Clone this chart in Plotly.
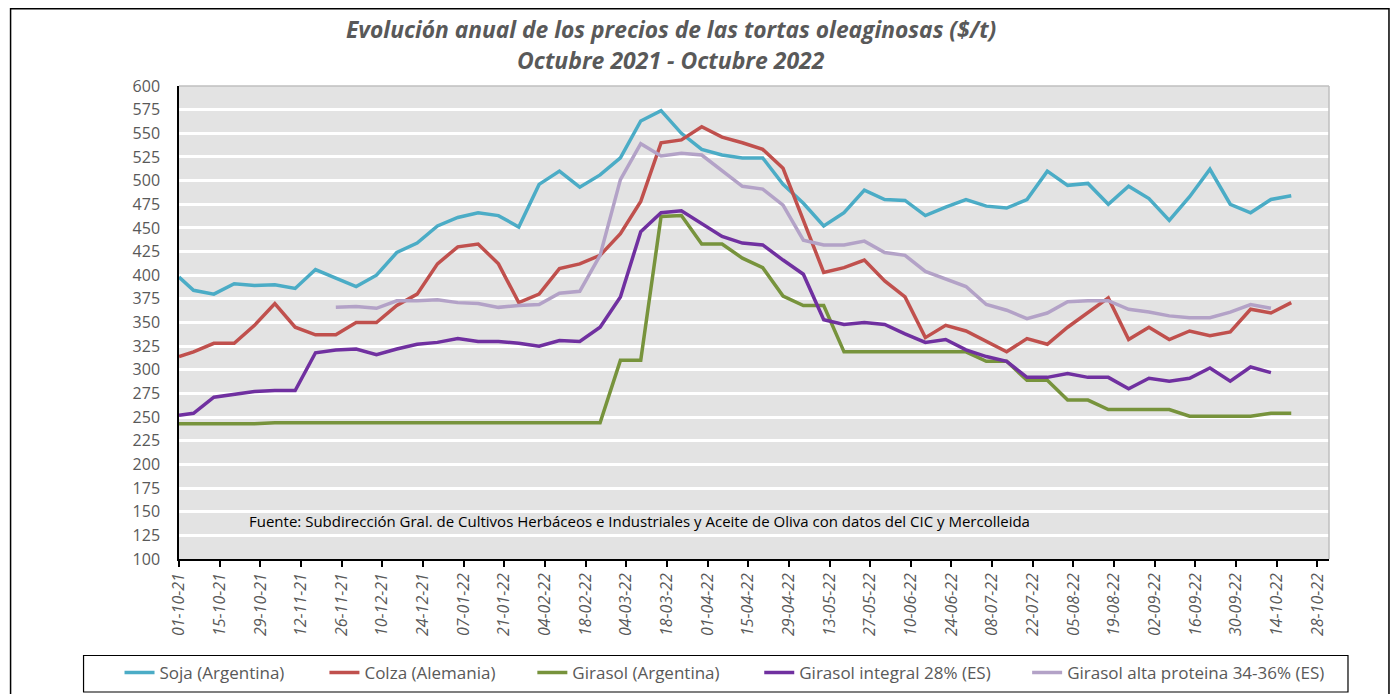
import plotly.graph_objects as go

dates = [
    "2021-10-01", "2021-10-06", "2021-10-13", "2021-10-20", "2021-10-27",
    "2021-11-03", "2021-11-10", "2021-11-17", "2021-11-24", "2021-12-01",
    "2021-12-08", "2021-12-15", "2021-12-22", "2021-12-29", "2022-01-05",
    "2022-01-12", "2022-01-19", "2022-01-26", "2022-02-02", "2022-02-09",
    "2022-02-16", "2022-02-23", "2022-03-02", "2022-03-09", "2022-03-16",
    "2022-03-23", "2022-03-30", "2022-04-06", "2022-04-13", "2022-04-20",
    "2022-04-27", "2022-05-04", "2022-05-11", "2022-05-18", "2022-05-25",
    "2022-06-01", "2022-06-08", "2022-06-15", "2022-06-22", "2022-06-29",
    "2022-07-06", "2022-07-13", "2022-07-20", "2022-07-27", "2022-08-03",
    "2022-08-10", "2022-08-17", "2022-08-24", "2022-08-31", "2022-09-07",
    "2022-09-14", "2022-09-21", "2022-09-28", "2022-10-05", "2022-10-12",
    "2022-10-19",
]

soja = [398, 384, 380, 391, 389, 390, 386, 406, 397, 388, 400, 424, 434, 452,
        461, 466, 463, 451, 496, 510, 493, 506, 524, 563, 574, 550, 533, 527,
        524, 524, 496, 476, 452, 466, 490, 480, 479, 463, 472, 480, 473, 471,
        480, 510, 495, 497, 475, 494, 481, 458, 483, 512, 475, 466, 480, 484]

colza = [314, 319, 328, 328, 347, 370, 345, 337, 337, 350, 350, 368, 380, 412,
         430, 433, 412, 371, 380, 407, 412, 421, 444, 478, 540, 543, 557, 546,
         540, 533, 513, 458, 403, 408, 416, 394, 377, 334, 347, 341, 330, 319,
         333, 327, 345, 361, 376, 332, 345, 332, 341, 336, 340, 364, 360, 371]

girasol_arg = [243, 243, 243, 243, 243, 244, 244, 244, 244, 244, 244, 244, 244,
               244, 244, 244, 244, 244, 244, 244, 244, 244, 310, 310, 462, 463,
               433, 433, 418, 408, 378, 368, 368, 319, 319, 319, 319, 319, 319,
               319, 309, 309, 289, 289, 268, 268, 258, 258, 258, 258, 251, 251,
               251, 251, 254, 254]

girasol_integral = [252, 254, 271, 274, 277, 278, 278, 318, 321, 322, 316, 322,
                    327, 329, 333, 330, 330, 328, 325, 331, 330, 345, 377, 446,
                    466, 468, 454, 441, 434, 432, 416, 401, 353, 348, 350, 348,
                    338, 329, 332, 321, 314, 309, 292, 292, 296, 292, 292, 280,
                    291, 288, 291, 302, 288, 303, 297, None]

girasol_alta = [None, None, None, None, None, None, None, None,
                366, 367, 365, 373, 373, 374, 371, 370, 366, 368, 369, 381,
                383, 421, 501, 539, 526, 529, 527, 510, 494, 491, 474, 437,
                432, 432, 436, 424, 421, 404, 396, 388, 369, 363, 354, 360,
                372, 373, 373, 364, 361, 357, 355, 355, 361, 369, 365, None]

names = ["Soja (Argentina)", "Colza (Alemania)", "Girasol (Argentina)",
         "Girasol integral 28% (ES)", "Girasol alta proteina 34-36% (ES)"]
values = [soja, colza, girasol_arg, girasol_integral, girasol_alta]
colors = ["#4BACC6", "#C0504D", "#77933C", "#7030A0", "#B3A2C7"]
# legend text start positions (page px, from reference)
legend_text_x = [157, 362, 570, 797, 1065]

OFF = 8  # page body margin
W, H = 1398 - OFF, 694 - OFF
L, R, T, B = 178.5 - OFF, 1329 - OFF, 86 - OFF, 559 - OFF


def px(x):  # reference page x -> paper
    return (x - OFF - L) / (R - L)


def py(y):  # reference page y -> paper
    return (B - (y - OFF)) / (B - T)


font_family = "Open Sans"
gray = "#595959"

fig = go.Figure()
for i, (name, vals, col) in enumerate(zip(names, values, colors)):
    lg = "legend" if i == 0 else f"legend{i + 1}"
    fig.add_trace(go.Scatter(x=dates, y=vals, name=name, mode="lines",
                             line=dict(color=col, width=3.5), connectgaps=False,
                             legend=lg))

legend_common = dict(orientation="h", yanchor="middle", y=py(673),
                     font=dict(family=font_family, size=17, color=gray),
                     bgcolor="rgba(0,0,0,0)", borderwidth=0, xanchor="left")
legends = {}
for i, tx in enumerate(legend_text_x):
    key = "legend" if i == 0 else f"legend{i + 1}"
    legends[key] = dict(legend_common, x=px(tx - 38))

fig.update_layout(
    width=W, height=H,
    margin=dict(l=L, r=W - R, t=T, b=H - B, autoexpand=False),
    paper_bgcolor="white",
    plot_bgcolor="#E3E3E3",
    font=dict(family=font_family, color=gray),
    showlegend=True,
    xaxis=dict(type="date", range=["2021-10-01", "2022-11-01"],
               tick0="2021-10-01", dtick=14 * 86400000,
               tickformat="%d-%m-%y", tickangle=-90,
               ticks="outside", ticklen=6, tickcolor="black", tickwidth=1.5,
               showgrid=False, showline=True, linecolor="black", linewidth=1.5,
               tickfont=dict(family=font_family, size=16, color=gray, style="italic"),
               zeroline=False),
    yaxis=dict(range=[100, 600], dtick=25, tick0=100,
               showgrid=True, gridcolor="white", gridwidth=2.5,
               showline=True, linecolor="black", linewidth=1.5,
               ticks="", ticklabelstandoff=14,
               tickfont=dict(family=font_family, size=16, color=gray),
               zeroline=False),
    **legends,
)

fig.add_annotation(text="<b><i>Evolución anual de los precios de las tortas oleaginosas ($/t)</i></b>",
                   xref="paper", yref="paper", x=px(671), y=py(30),
                   xanchor="center", yanchor="middle", showarrow=False,
                   font=dict(family=font_family, size=22.8, color=gray))
fig.add_annotation(text="<b><i>Octubre 2021 - Octubre 2022</i></b>",
                   xref="paper", yref="paper", x=px(671), y=py(60),
                   xanchor="center", yanchor="middle", showarrow=False,
                   font=dict(family=font_family, size=23, color=gray))
fig.add_annotation(text="Fuente: Subdirección Gral. de Cultivos Herbáceos e Industriales y Aceite de Oliva con datos del CIC y Mercolleida",
                   xref="paper", yref="paper", x=px(247), y=py(521),
                   xanchor="left", yanchor="middle", showarrow=False,
                   font=dict(family=font_family, size=15, color="black"))

# outer frame
fig.add_shape(type="rect", xref="paper", yref="paper",
              x0=px(10), x1=px(1389), y0=py(702), y1=py(8.8),
              line=dict(color="black", width=1.5), fillcolor="rgba(0,0,0,0)")
# legend box
fig.add_shape(type="rect", xref="paper", yref="paper",
              x0=px(83), x1=px(1348), y0=py(692), y1=py(655.5),
              line=dict(color="black", width=1.2), fillcolor="rgba(0,0,0,0)")
# plot area top/right border
fig.add_shape(type="line", xref="paper", yref="paper", x0=0, x1=1, y0=1, y1=1,
              line=dict(color="#BFBFBF", width=1.5))
fig.add_shape(type="line", xref="paper", yref="paper", x0=1, x1=1, y0=0, y1=1,
              line=dict(color="#BFBFBF", width=1.5))

fig.write_html("out.html")
